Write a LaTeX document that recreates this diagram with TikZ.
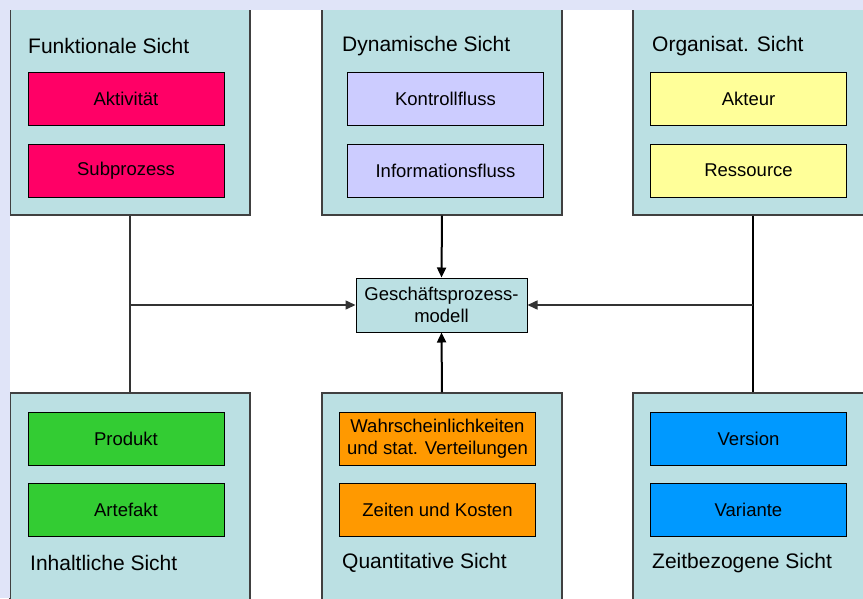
\documentclass[tikz,border=0pt]{standalone}
\usepackage{fontspec}
\setmainfont{Liberation Sans}
\usepackage{xcolor}
\usepackage{tikz}
\usetikzlibrary{arrows.meta,positioning}
\definecolor{sichtbg}{RGB}{187,224,227}
\definecolor{rahmen}{RGB}{224,228,248}
\definecolor{pinkrot}{RGB}{255,0,102}
\definecolor{lila}{RGB}{204,204,255}
\definecolor{hellgelb}{RGB}{255,255,153}
\definecolor{gruen}{RGB}{51,204,51}
\definecolor{orange}{RGB}{255,153,0}
\definecolor{blau}{RGB}{0,153,255}
\tikzset{
  sicht/.style={draw=black!75, line width=1.3pt, fill=sichtbg, rectangle, minimum width=240pt, inner sep=0pt},
  element/.style={draw=black, line width=1pt, rectangle, minimum width=196pt, minimum height=53pt, inner sep=0pt, align=center, font=\fontsize{18.5}{21.5}\selectfont},
  titel/.style={anchor=west, inner sep=0pt, font=\fontsize{21}{24}\selectfont},
  verbindung/.style={line width=1.5pt, black!80},
  pfeil/.style={line width=2pt, black, -{Triangle[length=10pt,width=9pt]}}
}

\begin{document}
\begin{tikzpicture}[x=1pt, y=-1pt]
        \clip (0,0) rectangle (863,598);
        \fill[white] (0,0) rectangle (863,598);

        % Sichten oben
        \node[sicht, minimum height=230pt] (funk) at (130,100) {};
        \node[sicht, minimum height=230pt] (dyn) at (442,100) {};
        \node[sicht, minimum height=230pt] (orga) at (753,100) {};

        % Sichten unten
        \node[sicht, minimum height=227pt] (inhalt) at (130,506.5) {};
        \node[sicht, minimum height=227pt] (quant) at (442,506.5) {};
        \node[sicht, minimum height=227pt] (zeit) at (753,506.5) {};

        % Rand der Folie
        \fill[rahmen] (0,0) rectangle (863,10);
        \fill[rahmen] (0,0) rectangle (10,598);

        % Titel
        \node[titel] (funk_titel) at (28,46) {Funktionale Sicht};
        \node[titel] (dyn_titel) at (342,46) {Dynamische Sicht};
        \node[titel] (orga_titel) at (652,46) {Organisat. Sicht};
        \node[titel] (inhalt_titel) at (30,563) {Inhaltliche Sicht};
        \node[titel] (quant_titel) at (342,563) {Quantitative Sicht};
        \node[titel] (zeit_titel) at (652,563) {Zeitbezogene Sicht};

        % Elemente
        \node[element, fill=pinkrot] (aktivitaet) at (126,98.5) {Aktivität};
        \node[element, fill=pinkrot] (subprozess) at (126,170.5) {Subprozess};
        \node[element, fill=lila] (kontrollfluss) at (445.5,98.5) {Kontrollfluss};
        \node[element, fill=lila] (infofluss) at (445.5,170.5) {Informationsfluss};
        \node[element, fill=hellgelb] (akteur) at (748.5,98.5) {Akteur};
        \node[element, fill=hellgelb] (ressource) at (748.5,170.5) {Ressource};
        \node[element, fill=gruen] (produkt) at (126,438.5) {Produkt};
        \node[element, fill=gruen] (artefakt) at (126,510) {Artefakt};
        \node[element, fill=orange] (wahrsch) at (437.5,438.5) {Wahrscheinlichkeiten\\und stat. Verteilungen};
        \node[element, fill=orange] (zeitkosten) at (437.5,510) {Zeiten und Kosten};
        \node[element, fill=blau] (version) at (748.5,438.5) {Version};
        \node[element, fill=blau] (variante) at (748.5,510) {Variante};

        % Geschaeftsprozessmodell
        \node[element, fill=sichtbg, minimum width=171pt, minimum height=54pt] (gpm) at (441.5,305) {Geschäftsprozess-\\modell};

        % Verbindungen
        \draw[verbindung] (funk.south) -- (inhalt.north);
        \draw[verbindung, -{Triangle[length=10pt,width=9pt]}] (funk.south |- gpm.west) -- (gpm.west);
        \draw[verbindung, line width=2pt, black] (orga.south) -- (zeit.north);
        \draw[verbindung, -{Triangle[length=10pt,width=9pt]}] (orga.south |- gpm.east) -- (gpm.east);
        \draw[pfeil] (dyn.south) -- (gpm.north);
        \draw[pfeil] (quant.north) -- (gpm.south);
    \end{tikzpicture}
\end{document}
